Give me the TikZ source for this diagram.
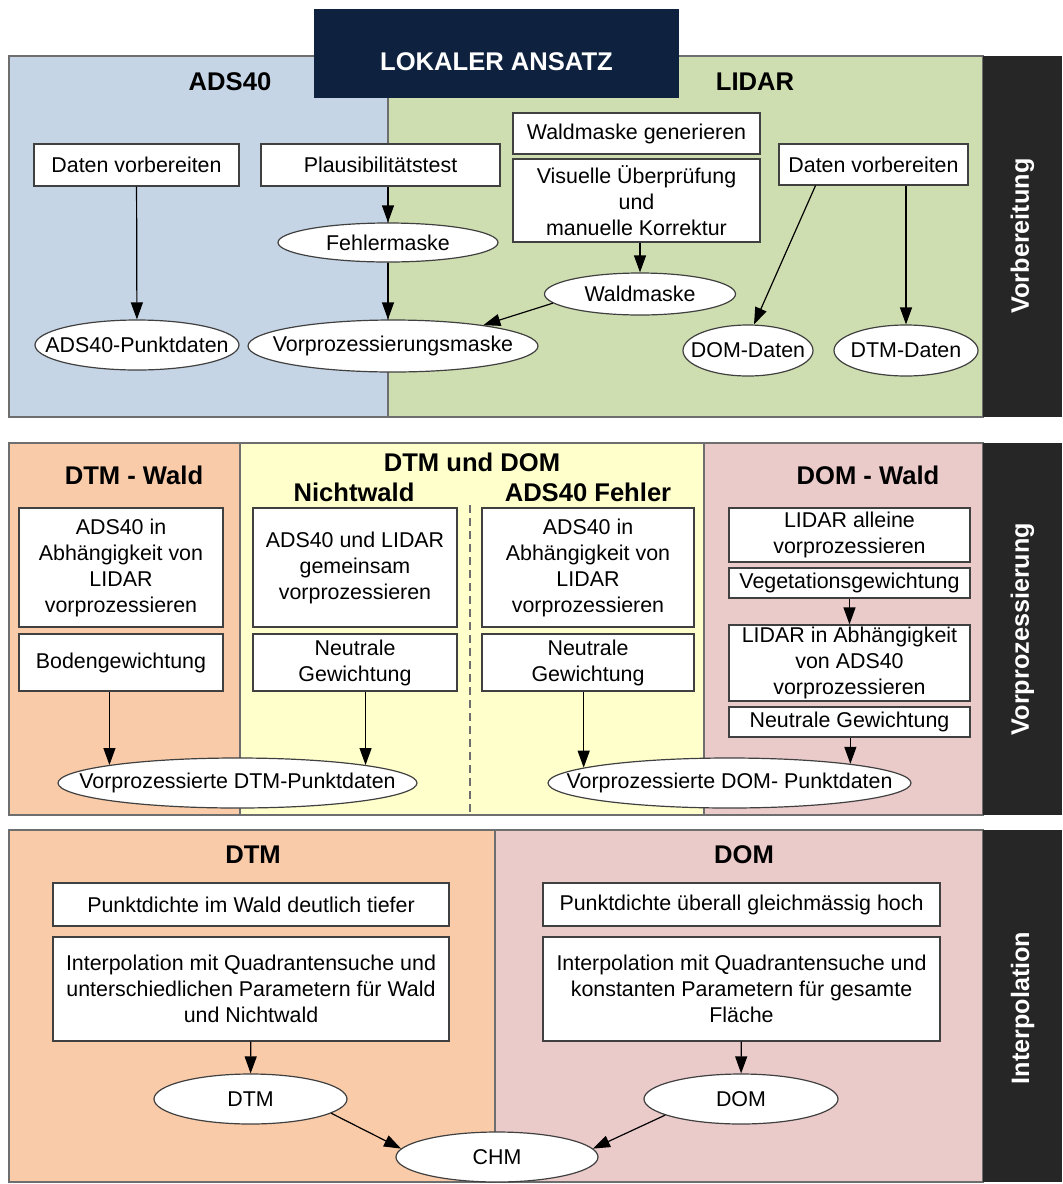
\documentclass[tikz,border=0pt]{standalone}
\usepackage{fontspec}
\setmainfont{Liberation Sans}
\usetikzlibrary{shapes.geometric,arrows.meta}

\definecolor{adsblue}{HTML}{C6D5E6}
\definecolor{lidgreen}{HTML}{CFDEB0}
\definecolor{dtmorange}{HTML}{F9CBA9}
\definecolor{mixyellow}{HTML}{FFFFCC}
\definecolor{dompink}{HTML}{EBCACA}
\definecolor{bandgray}{HTML}{262626}
\definecolor{titlenavy}{HTML}{0E2240}
\definecolor{framegray}{HTML}{6E6E6E}

\newcommand{\elltext}[1]{\makebox[0pt]{#1}}

\begin{document}
\begin{tikzpicture}[x=0.5pt, y=-0.5pt,
    sz/.style 2 args={minimum width=#1*0.5pt, minimum height=#2*0.5pt},
    stepbox/.style={draw=black!75, fill=white, align=center, inner sep=0pt, line width=0.6pt, font=\fontsize{10.7}{13}\selectfont},
    oval/.style={ellipse, draw=black!75, fill=white, inner sep=0pt, line width=0.6pt, font=\fontsize{10.7}{13}\selectfont},
    hdr/.style={font=\fontsize{12.8}{15}\selectfont\bfseries},
    side/.style={font=\fontsize{12.6}{15}\selectfont\bfseries, text=white, rotate=90},
    region/.style={draw=framegray, line width=0.8pt},
    flow/.style={-{Triangle[length=8.5pt,width=6pt]}, line width=0.6pt}]

    \useasboundingbox (0,0) rectangle (1062,1184);

    % Vorbereitung
    \draw[region, fill=adsblue] (9,56) rectangle (388,417);
    \draw[region, fill=lidgreen] (388,56) rectangle (983,417);
    \fill[bandgray] (983,56) rectangle (1062,417);
    \node[fill=titlenavy, sz={365}{89}] (lokal) at (496.5,53.5) {};
    \node[hdr, text=white] (lokaltxt) at (496.5,62) {LOKALER ANSATZ};
    \node[side] (vorb) at (1022.5,236) {Vorbereitung};

    \node[hdr] (hads) at (230,82) {ADS40};
    \node[hdr] (hlid) at (755,82) {LIDAR};

    \node[stepbox, sz={205}{42}] (adsprep) at (136.5,165) {Daten vorbereiten};
    \node[stepbox, sz={239}{42}] (plaus) at (380.5,165) {Plausibilitätstest};
    \node[oval, sz={220}{39}] (fehler) at (388,242.5) {\elltext{Fehlermaske}};
    \node[oval, sz={204}{50}] (adspts) at (137,345) {\elltext{ADS40-Punktdaten}};
    \node[oval, sz={290}{52}] (vpmaske) at (393,346) {\elltext{Vorprozessierungsmaske}};

    \node[stepbox, sz={247}{41}] (waldgen) at (636.5,133.5) {Waldmaske generieren};
    \node[stepbox, sz={247}{83}] (visuell) at (636.5,200.5) {Visuelle Überprüfung\\und\\manuelle Korrektur};
    \node[oval, sz={191}{42}] (waldmaske) at (640,294) {\elltext{Waldmaske}};
    \node[stepbox, sz={189}{41}] (lidprep) at (873.5,164.5) {Daten vorbereiten};
    \node[oval, sz={130}{51}] (domdat) at (748,350.5) {\elltext{DOM-Daten}};
    \node[oval, sz={144}{51}] (dtmdat) at (906,350.5) {\elltext{DTM-Daten}};

    \draw[flow] (adsprep) -- (adspts);
    \draw[flow] (plaus.south -| fehler.north) -- (fehler.north);
    \draw[flow] (fehler.south) -- (fehler.south |- vpmaske.north);
    \draw[flow] (visuell.south -| waldmaske.north) -- (waldmaske.north);
    \draw[flow] (waldmaske.186) -- (vpmaske.13);
    \draw[flow] (lidprep.200) -- (domdat.77);
    \draw[flow] (lidprep.south -| dtmdat.north) -- (dtmdat.north);

    % Vorprozessierung
    \draw[region, fill=dtmorange] (9,443) rectangle (240,815);
    \draw[region, fill=mixyellow] (240,443) rectangle (704,815);
    \draw[region, fill=dompink] (704,443) rectangle (983,815);
    \fill[bandgray] (983,443) rectangle (1062,815);
    \draw[framegray, line width=0.6pt, dash pattern=on 4pt off 2.5pt] (470,505) -- (470,815);
    \node[side] (vorp) at (1022.5,629) {Vorprozessierung};

    \node[hdr] (hdtmw) at (134,475) {DTM - Wald};
    \node[hdr] (hmix) at (472,462) {DTM und DOM};
    \node[hdr] (hnw) at (354,492) {Nichtwald};
    \node[hdr] (hfe) at (588,492) {ADS40 Fehler};
    \node[hdr] (hdomw) at (868,475) {DOM - Wald};

    \node[stepbox, sz={204}{119}] (dtmw1) at (121,567.5) {ADS40 in\\Abhängigkeit von\\LIDAR\\vorprozessieren};
    \node[stepbox, sz={204}{57}] (dtmw2) at (121,662.5) {Bodengewichtung};
    \node[stepbox, sz={204}{119}] (nw1) at (355,567.5) {ADS40 und LIDAR\\gemeinsam\\vorprozessieren};
    \node[stepbox, sz={204}{57}] (nw2) at (355,662.5) {Neutrale\\Gewichtung};
    \node[stepbox, sz={212}{119}] (fe1) at (588,567.5) {ADS40 in\\Abhängigkeit von\\LIDAR\\vorprozessieren};
    \node[stepbox, sz={212}{57}] (fe2) at (588,662.5) {Neutrale\\Gewichtung};
    \node[stepbox, sz={241}{54}] (dw1) at (849.5,535) {LIDAR alleine\\vorprozessieren};
    \node[stepbox, sz={241}{30}] (dw2) at (849.5,583) {Vegetationsgewichtung};
    \node[stepbox, sz={241}{76}] (dw3) at (849.5,663) {LIDAR in Abhängigkeit\\von ADS40\\vorprozessieren};
    \node[stepbox, sz={241}{30}] (dw4) at (849.5,722) {Neutrale Gewichtung};
    \node[oval, sz={359}{50}] (dtmpts) at (237.5,783) {\elltext{Vorprozessierte DTM-Punktdaten}};
    \node[oval, sz={363}{50}] (dompts) at (729.5,783) {\elltext{Vorprozessierte DOM- Punktdaten}};

    \draw[flow] (dtmw2.south -| dtmpts.172) -- (dtmpts.172);
    \draw[flow] (nw2.south -| dtmpts.8) -- (dtmpts.8);
    \draw[flow] (fe2.south -| dompts.174) -- (dompts.174);
    \draw[flow] (dw2.south) -- (dw3.north);
    \draw[flow] (dw4.south -| dompts.9) -- (dompts.9);

    % Interpolation
    \draw[region, fill=dtmorange] (9,830) rectangle (495,1182);
    \draw[region, fill=dompink] (495,830) rectangle (983,1182);
    \fill[bandgray] (983,830) rectangle (1062,1182);
    \node[side] (interp) at (1022.5,1008) {Interpolation};

    \node[hdr] (hdtm) at (253,855) {DTM};
    \node[hdr] (hdom) at (744,855) {DOM};

    \node[stepbox, sz={396}{43}] (pd1) at (251,904.5) {Punktdichte im Wald deutlich tiefer};
    \node[stepbox, sz={396}{104}] (ip1) at (251,989) {Interpolation mit Quadrantensuche und\\unterschiedlichen Parametern für Wald\\und Nichtwald};
    \node[stepbox, sz={397}{43}] (pd2) at (741.5,904.5) {Punktdichte überall gleichmässig hoch};
    \node[stepbox, sz={397}{104}] (ip2) at (741.5,989) {Interpolation mit Quadrantensuche und\\konstanten Parametern für gesamte\\Fläche};
    \node[oval, sz={193}{50}] (dtm) at (250.5,1099) {\elltext{DTM}};
    \node[oval, sz={194}{50}] (dom) at (741,1099) {\elltext{DOM}};
    \node[oval, sz={202}{50}] (chm) at (497,1157) {\elltext{CHM}};

    \draw[flow] (ip1) -- (dtm);
    \draw[flow] (ip2) -- (dom);
    \draw[flow] (dtm.350) -- (chm.175);
    \draw[flow] (dom.192) -- (chm.5);

\end{tikzpicture}
\end{document}
